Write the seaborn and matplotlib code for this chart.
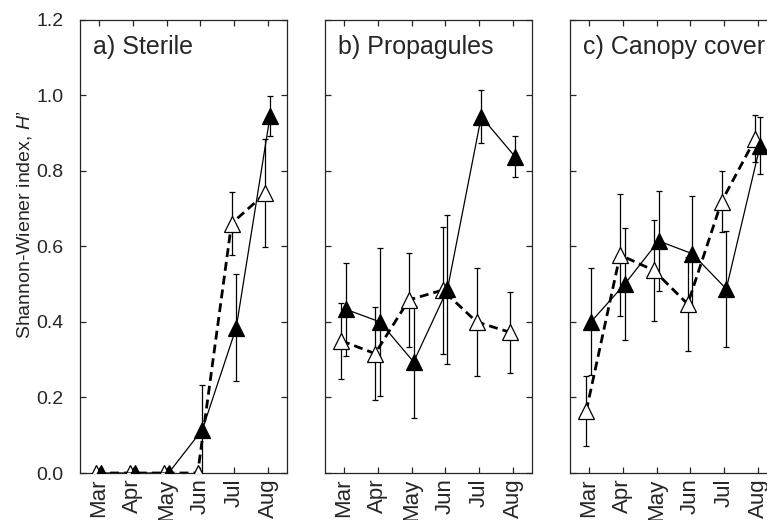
import matplotlib
matplotlib.use("Agg")
import matplotlib.pyplot as plt
import seaborn as sns
import numpy as np
import pandas as pd

months = ["Mar", "Apr", "May", "Jun", "Jul", "Aug"]
panel_titles = ["a) Sterile", "b) Propagules", "c) Canopy cover"]

# filled triangles (solid line)
sterile_filled = [0.0, 0.0, 0.0, 0.115, 0.385, 0.945]
sterile_filled_err = [0.0, 0.0, 0.0, 0.118, 0.142, 0.053]
prop_filled = [0.433, 0.400, 0.294, 0.486, 0.943, 0.837]
prop_filled_err = [0.123, 0.195, 0.149, 0.197, 0.070, 0.055]
canopy_filled = [0.400, 0.500, 0.614, 0.580, 0.487, 0.866]
canopy_filled_err = [0.142, 0.149, 0.133, 0.152, 0.154, 0.075]

# open triangles (dashed line)
sterile_open = [0.0, 0.0, 0.0, 0.0, 0.660, 0.740]
sterile_open_err = [0.0, 0.0, 0.0, 0.0, 0.083, 0.143]
prop_open = [0.350, 0.316, 0.458, 0.484, 0.400, 0.372]
prop_open_err = [0.100, 0.122, 0.124, 0.168, 0.143, 0.108]
canopy_open = [0.164, 0.577, 0.536, 0.447, 0.718, 0.885]
canopy_open_err = [0.093, 0.162, 0.133, 0.125, 0.080, 0.062]

filled_sets = [(sterile_filled, sterile_filled_err), (prop_filled, prop_filled_err),
               (canopy_filled, canopy_filled_err)]
open_sets = [(sterile_open, sterile_open_err), (prop_open, prop_open_err),
             (canopy_open, canopy_open_err)]

sns.set_style("ticks")
plt.rcParams["font.family"] = ["Liberation Sans", "DejaVu Sans"]
plt.rcParams["mathtext.fontset"] = "custom"
plt.rcParams["mathtext.it"] = "Liberation Sans:italic"
plt.rcParams["mathtext.rm"] = "Liberation Sans"

fig = plt.figure(figsize=(7.67, 5.2), dpi=100)
lefts = [80 / 767, 325 / 767, 570 / 767]
w = 207 / 767
bottom = 1 - 473 / 520
h = (473 - 19.5) / 520

xpos = np.arange(len(months))
for i in range(3):
    ax = fig.add_axes([lefts[i], bottom, w, h])
    fy, fe = filled_sets[i]
    oy, oe = open_sets[i]
    xo = xpos - 0.08
    xf = xpos + 0.06
    # error bars
    ax.errorbar(xo, oy, yerr=oe, fmt="none", ecolor="black", elinewidth=0.9,
                capsize=2.5, capthick=0.9, zorder=2)
    ax.errorbar(xf, fy, yerr=fe, fmt="none", ecolor="black", elinewidth=0.9,
                capsize=2.5, capthick=0.9, zorder=2)
    dfo = pd.DataFrame({"x": xo, "y": oy})
    dff = pd.DataFrame({"x": xf, "y": fy})
    sns.lineplot(data=dfo, x="x", y="y", ax=ax, color="black", linewidth=2.0,
                 linestyle=(0, (3.2, 1.8)), marker="^", markersize=11,
                 markerfacecolor="white", markeredgecolor="black",
                 markeredgewidth=0.9, zorder=3)
    sns.lineplot(data=dff, x="x", y="y", ax=ax, color="black", linewidth=0.9,
                 marker="^", markersize=11, markerfacecolor="black",
                 markeredgecolor="black", markeredgewidth=0.9, zorder=4)
    ax.set_xlim(-0.56, 5.56)
    ax.set_ylim(0, 1.2)
    ax.set_xticks(xpos)
    ax.set_xticklabels(months, rotation=90, fontsize=16)
    ax.set_yticks(np.arange(0, 1.21, 0.2))
    ax.set_xlabel("")
    ax.tick_params(direction="in", length=4, width=0.9, top=True, right=True)
    ax.tick_params(axis="x", pad=4)
    ax.tick_params(axis="y", pad=12)
    if i == 0:
        ax.set_yticklabels([f"{v:.1f}" for v in np.arange(0, 1.21, 0.2)], fontsize=14)
        ax.set_ylabel("Shannon-Wiener index, $H$\u2019", fontsize=14)
        ax.yaxis.set_label_coords(-0.222, 0.547)
    else:
        ax.set_yticklabels([])
        ax.set_ylabel("")
    for sp in ax.spines.values():
        sp.set_linewidth(0.9)
        sp.set_visible(True)
    ax.text(0.065, 0.966, panel_titles[i], transform=ax.transAxes, fontsize=18,
            ha="left", va="top")

fig.savefig("out.png", dpi=100)
